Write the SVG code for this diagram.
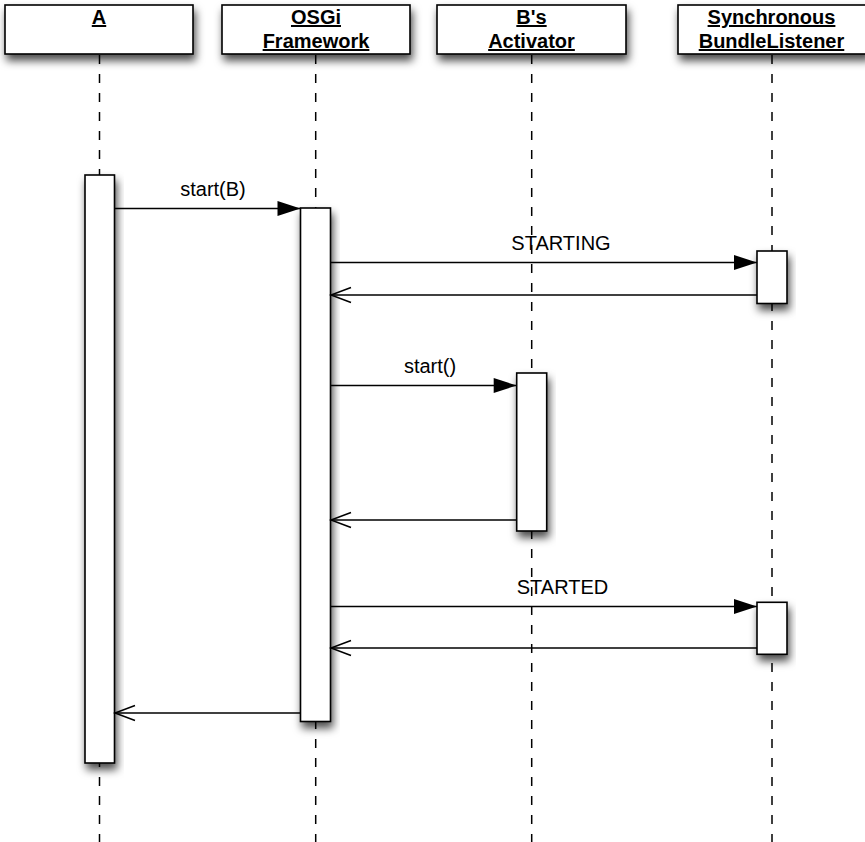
<svg xmlns="http://www.w3.org/2000/svg" width="865" height="842" viewBox="0 0 865 842">
<style>
.box{fill:#fff;stroke:#000;stroke-width:1.6;filter:url(#sh)}
.hdr{font-family:"Liberation Sans",Arial,Helvetica,sans-serif;font-size:20px;font-weight:bold;text-decoration:underline;text-anchor:middle;fill:#000}
.lbl{font-family:"Liberation Sans",Arial,Helvetica,sans-serif;font-size:20px;text-anchor:middle;fill:#000}
.life{stroke:#000;stroke-width:1.5;stroke-dasharray:9 10;fill:none}
.msg{stroke:#000;stroke-width:1.5;fill:none}
.call{marker-end:url(#filled)}
.ret{marker-end:url(#open)}
</style>
<defs>
<filter id="sh" x="-30%" y="-30%" width="160%" height="170%">
<feDropShadow dx="2" dy="6" stdDeviation="4.5" flood-color="#000" flood-opacity="0.7"/>
</filter>
<marker id="filled" markerUnits="userSpaceOnUse" markerWidth="24" markerHeight="16" refX="23" refY="7.5" orient="auto" overflow="visible">
<path d="M0,0 L23,7.5 L0,15 Z" fill="#000"/>
</marker>
<marker id="open" markerUnits="userSpaceOnUse" markerWidth="22" markerHeight="17" refX="20" refY="7.5" orient="auto" overflow="visible">
<path d="M0,0 L20,7.5 L0,15" fill="none" stroke="#000" stroke-width="1.5"/>
</marker>
</defs>
<rect width="865" height="842" fill="#fff"/>

<g id="lifelines">
<line class="life" x1="99.5" y1="55" x2="99.5" y2="842"/>
<line class="life" x1="315.7" y1="55" x2="315.7" y2="842"/>
<line class="life" x1="531.7" y1="55" x2="531.7" y2="842"/>
<line class="life" x1="772" y1="55" x2="772" y2="842"/>
</g>

<g id="A">
<rect class="box" x="5" y="5" width="188" height="49"/>
<text class="hdr" x="99" y="24">A</text>
<rect class="box" x="85" y="175" width="29.5" height="588"/>
</g>

<g id="OSGi">
<rect class="box" x="222" y="5" width="188" height="49"/>
<text class="hdr" x="316" y="24">OSGi</text>
<text class="hdr" x="316" y="48">Framework</text>
<rect class="box" x="300.5" y="208" width="30" height="513.5"/>
</g>

<g id="Activator">
<rect class="box" x="437" y="5" width="189" height="49"/>
<text class="hdr" x="531.5" y="24">B's</text>
<text class="hdr" x="531.5" y="48">Activator</text>
<rect class="box" x="516.7" y="373" width="30" height="158"/>
</g>

<g id="Listener">
<rect class="box" x="678" y="5" width="190" height="49"/>
<text class="hdr" x="771.5" y="24">Synchronous</text>
<text class="hdr" x="771.5" y="48">BundleListener</text>
<rect class="box" x="757" y="251" width="30" height="52.5"/>
<rect class="box" x="757" y="602.3" width="30" height="52"/>
</g>

<g id="connectors">
<line class="msg call" x1="114.5" y1="208.5" x2="300.5" y2="208.5"/>
<text class="lbl" x="213" y="196">start(B)</text>
<line class="msg call" x1="330.5" y1="262.5" x2="757" y2="262.5"/>
<text class="lbl" x="561" y="250">STARTING</text>
<line class="msg ret" x1="757" y1="295" x2="331" y2="295"/>
<line class="msg call" x1="330.5" y1="385.5" x2="516.7" y2="385.5"/>
<text class="lbl" x="430" y="373">start()</text>
<line class="msg ret" x1="516.7" y1="520" x2="331" y2="520"/>
<line class="msg call" x1="330.5" y1="606.5" x2="757" y2="606.5"/>
<text class="lbl" x="562.5" y="594">STARTED</text>
<line class="msg ret" x1="757" y1="648" x2="331" y2="648"/>
<line class="msg ret" x1="300.5" y1="713" x2="115" y2="713"/>
</g>
</svg>
